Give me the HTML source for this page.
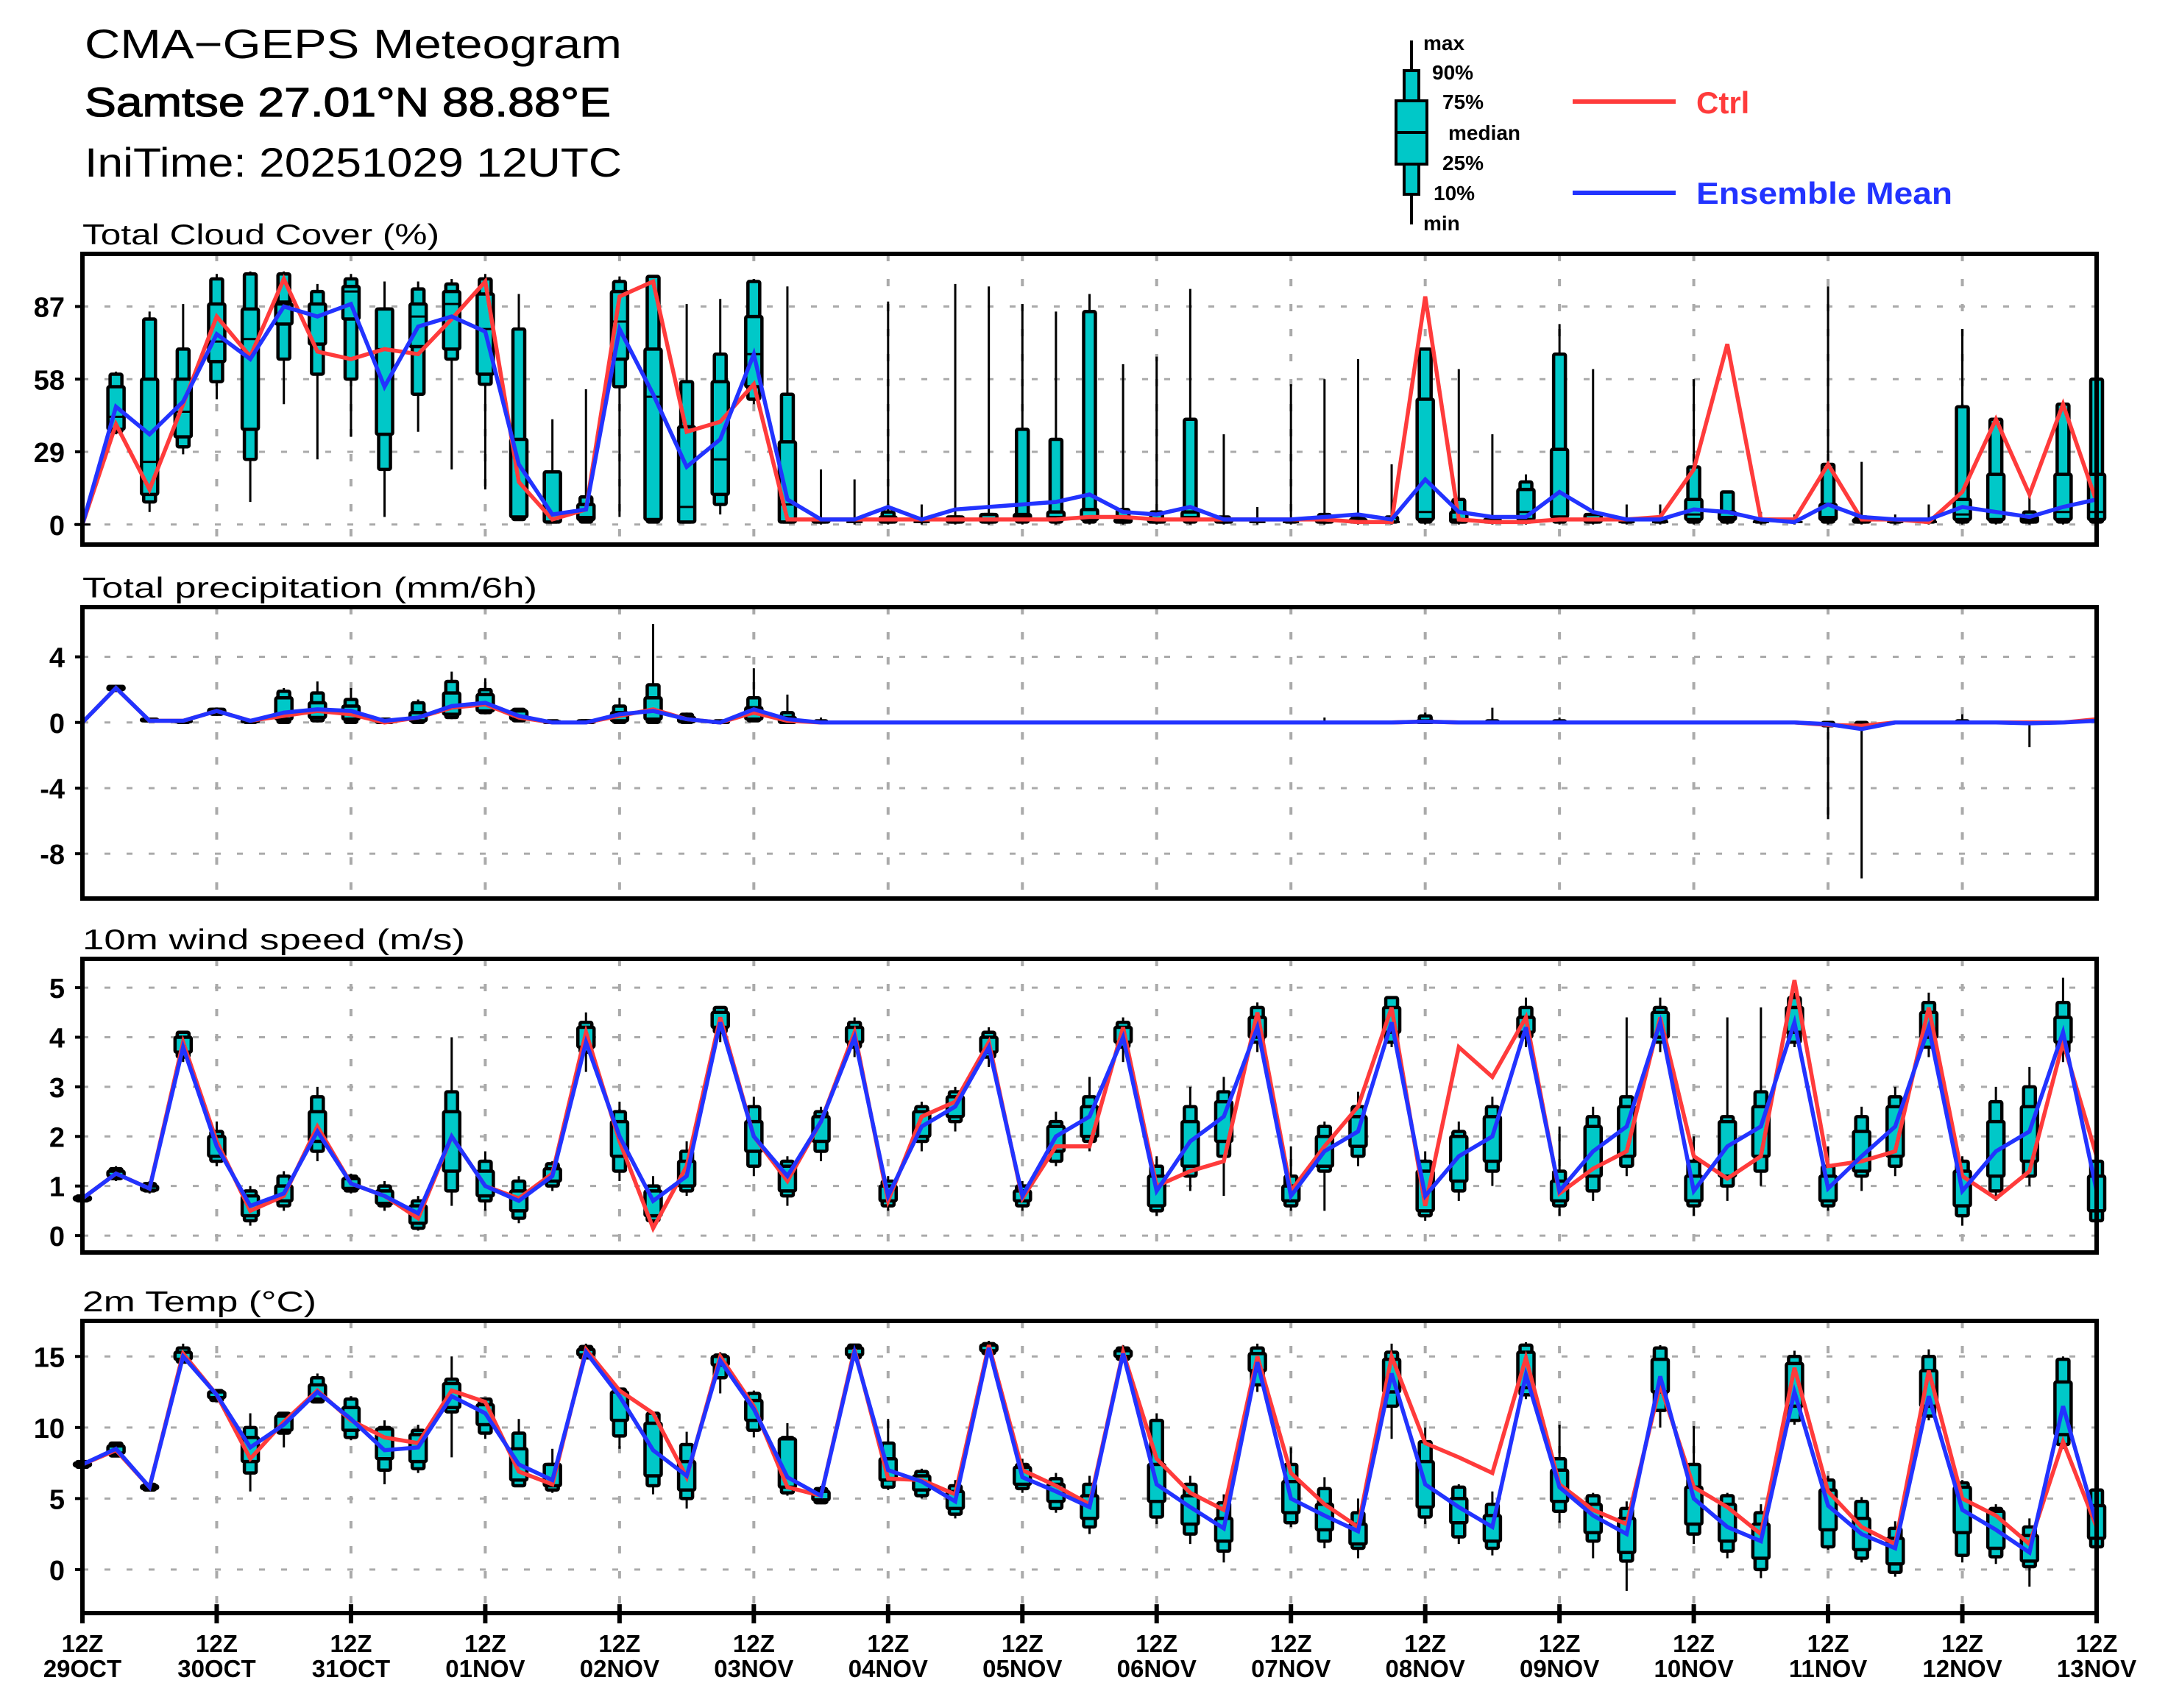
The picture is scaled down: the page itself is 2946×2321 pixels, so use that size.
<!DOCTYPE html>
<html><head><meta charset="utf-8"><title>CMA-GEPS Meteogram</title>
<style>html,body{margin:0;padding:0;background:#fff}svg{display:block}text{font-family:"Liberation Sans",sans-serif}</style>
</head><body>
<svg id="chart" xmlns="http://www.w3.org/2000/svg" width="2946" height="2321" viewBox="0 0 2946 2321">
<rect x="0" y="0" width="2946" height="2321" fill="#fff"/>
<text x="115" y="79" font-size="56" textLength="730" lengthAdjust="spacingAndGlyphs">CMA−GEPS Meteogram</text>
<text x="115" y="158" font-size="56" textLength="715" lengthAdjust="spacingAndGlyphs" stroke="#000" stroke-width="1.2">Samtse 27.01°N 88.88°E</text>
<text x="115" y="240" font-size="56" textLength="730" lengthAdjust="spacingAndGlyphs">IniTime: 20251029 12UTC</text>
<g>
<line x1="1918" y1="55" x2="1918" y2="305" stroke="#000" stroke-width="4"/>
<rect x="1908" y="96" width="20" height="168" fill="#00c8c8" stroke="#000" stroke-width="4"/>
<rect x="1897" y="137" width="42" height="86" fill="#00c8c8" stroke="#000" stroke-width="4"/>
<line x1="1897" y1="180" x2="1939" y2="180" stroke="#000" stroke-width="4"/>
<g font-size="28" font-weight="bold">
<text x="1934" y="68">max</text>
<text x="1946" y="108">90%</text>
<text x="1960" y="148">75%</text>
<text x="1968" y="190">median</text>
<text x="1960" y="231">25%</text>
<text x="1948" y="272">10%</text>
<text x="1934" y="313">min</text>
</g>
<line x1="2137" y1="138" x2="2277" y2="138" stroke="#ff3b3b" stroke-width="6"/>
<text x="2305" y="154" font-size="42" font-weight="bold" fill="#ff3b3b">Ctrl</text>
<line x1="2137" y1="262" x2="2277" y2="262" stroke="#2233ff" stroke-width="6"/>
<text x="2305" y="277" font-size="42" font-weight="bold" fill="#2233ff" textLength="348" lengthAdjust="spacingAndGlyphs">Ensemble Mean</text>
</g>
<g id="plots"></g>
</svg>
<script>
// ---- Cloud cover (%)
const cloudMin=[0,36,5,28,50,9,48,26,35,3,37,22,14,2,1,1,3,1,1,4,48,1,0,0,0,0,0,0,0,0,0,0,0,0,0,0,0,0,0,0,0,0,0,0,0,0,0,0,0,0,0,0,0,0,0,0,0,0,0,0,0];
const cloudP10=[0,37,9,31,57,26,66,60,58,22,52,66,56,2,1,1,55,1,1,8,50,1,1,1,1,1,1,1,1,1,1,1,1,1,1,1,1,1,1,1,1,1,1,1,1,1,1,1,1,1,1,1,1,1,1,1,1,1,1,1,1];
const cloudP25=[0,38,12,35,65,38,80,72,82,36,71,70,60,3,1,2,66,2,1,12,55,1,1,1,1,1,1,1,2,2,2,1,1,2,1,1,1,1,1,1,2,1,1,2,3,1,1,1,2,2,1,1,2,1,1,1,2,2,1,2,2];
const cloudMed=[0,43,25,45,73,74,89,88,93,70,83,88,78,3,1,3,81,51,7,26,68,8,1,1,1,1,1,1,3,3,3,2,2,3,1,1,1,1,1,1,5,2,1,5,3,1,1,1,4,3,1,1,3,1,1,1,4,5,2,5,5];
const cloudP75=[0,55,58,58,88,86,88,88,95,86,88,93,92,34,21,8,93,70,39,57,83,33,2,1,3,1,3,4,4,5,6,2,2,5,2,1,1,2,2,1,50,5,2,14,30,4,1,1,10,5,1,1,8,2,1,1,10,20,3,20,20];
const cloudP90=[0,60,82,70,98,100,100,93,98,86,94,96,98,78,21,11,97,99,57,68,97,52,2,1,5,1,3,4,38,34,85,6,5,42,3,1,2,4,3,3,70,10,3,17,68,4,2,2,23,13,2,1,24,3,2,2,47,42,5,48,58];
const cloudMax=[0,61,85,88,100,101,101,96,100,97,97,98,100,92,42,54,99,99,88,90,98,95,22,18,89,8,96,95,88,85,92,64,67,94,36,7,56,58,66,24,70,62,36,20,80,62,8,8,58,13,5,4,95,25,4,8,78,43,12,48,58];
const cloudCtrl=[0,40,14,48,83,67,98,69,66,70,68,82,97,17,2,6,91,97,37,41,56,2,2,2,2,2,2,2,2,2,3,3,2,2,2,2,2,2,1,1,91,2,1,1,2,2,2,3,22,72,2,2,24,2,2,1,13,42,12,48,9];
const cloudMean=[0,47,36,49,76,66,87,83,88,55,79,83,77,24,4,6,78,52,23,34,68,10,2,2,7,2,6,7,8,9,12,5,4,7,2,2,2,3,4,2,18,5,3,3,13,5,2,2,6,5,2,1,8,3,2,2,7,5,3,7,10];
const cloudTicks=[0,29,58,87];
// ---- Precipitation (mm/6h)
const precMin=[0,1.9,0.1,0,0.4,0,0,0,0,0,0,0.2,0.5,0.1,0,0,0,0,0,0,0.1,0,0,0,0,0,0,0,0,0,0,0,0,0,0,0,0,0,0,0,0,0,0,0,0,0,0,0,0,0,0,0,-5.9,-9.5,0,0,0,0,-1.5,0,0];
const precP10=[0,1.95,0.1,0,0.5,0,0,0.1,0,0,0,0.3,0.6,0.1,0,0,0,0,0,0,0.1,0,0,0,0,0,0,0,0,0,0,0,0,0,0,0,0,0,0,0,0,0,0,0,0,0,0,0,0,0,0,0,-0.2,-0.3,0,0,0,0,0,0,0];
const precP25=[0,2.0,0.1,0.05,0.55,0.05,0.2,0.3,0.2,0,0.1,0.5,0.7,0.2,0,0,0.1,0.2,0.05,0,0.2,0,0,0,0,0,0,0,0,0,0,0,0,0,0,0,0,0,0,0,0,0,0,0,0,0,0,0,0,0,0,0,0,0,0,0,0,0,0,0,0];
const precP75=[0,2.2,0.2,0.1,0.8,0.1,1.5,1.2,1.0,0.1,0.6,1.8,1.7,0.7,0.05,0.1,0.6,1.5,0.3,0.05,0.9,0.3,0,0,0,0,0,0,0,0,0,0,0,0,0,0,0,0,0,0,0.1,0,0,0,0,0,0,0,0,0,0,0,0,0,0,0,0,0,0,0,0];
const precP90=[0,2.2,0.2,0.1,0.8,0.1,1.9,1.8,1.4,0.2,1.2,2.5,2.0,0.8,0.1,0.1,1.0,2.3,0.5,0.1,1.5,0.6,0.1,0,0,0,0,0,0,0,0,0,0,0,0,0,0,0,0,0,0.4,0,0.1,0,0.1,0,0,0,0,0,0,0,0,0,0,0,0.1,0,0,0,0];
const precMax=[0,2.3,0.2,0.1,0.9,0.1,2.1,2.5,2.1,0.3,1.4,3.1,2.7,0.8,0.1,0.2,1.5,6.0,0.6,0.1,3.3,1.7,0.3,0.1,0,0,0,0,0,0,0,0,0,0,0,0,0,0.3,0,0,0.6,0,0.9,0,0.3,0,0,0,0,0,0,0,0,0,0,0,0.5,0,0,0,0.1];
const precCtrl=[0,2.1,0.1,0.1,0.7,0.1,0.4,0.7,0.5,0,0.3,0.9,1.1,0.3,0,0,0.4,0.8,0.2,0,0.6,0.1,0,0,0,0,0,0,0,0,0,0,0,0,0,0,0,0,0,0,0.05,0,0,0,0,0,0,0,0,0,0,0,-0.15,-0.2,0,0,0,0,0,0,0.2];
const precMean=[0,2.1,0.1,0.1,0.7,0.1,0.6,0.8,0.7,0.1,0.3,1.0,1.2,0.4,0,0,0.5,0.7,0.2,0,0.8,0.2,0,0,0,0,0,0,0,0,0,0,0,0,0,0,0,0,0,0,0.05,0,0,0,0,0,0,0,0,0,0,0,-0.1,-0.4,0,0,0,0,-0.05,0,0.1];
const precTicks=[-8,-4,0,4];
// ---- Wind speed (m/s)
const windMin=[0.7,1.1,0.85,3.5,1.4,0.2,0.5,1.5,0.85,0.5,0.1,0.6,0.5,0.25,0.9,3.3,1.1,0.2,0.8,3.9,1.2,0.6,1.5,3.6,0.5,1.7,2.1,3.4,0.5,1.4,1.7,3.5,0.4,0.9,0.8,3.7,0.5,0.5,1.4,3.8,0.3,0.7,1.0,3.8,0.4,0.7,1.2,3.7,0.4,0.7,1.0,3.8,0.5,0.9,1.2,3.6,0.2,0.7,1.0,3.5,0.2];
const windP10=[0.7,1.15,0.9,3.6,1.5,0.3,0.6,1.7,0.9,0.6,0.15,0.9,0.7,0.35,1.0,3.7,1.3,0.3,0.9,4.1,1.4,0.8,1.7,3.8,0.6,1.9,2.3,3.6,0.6,1.5,1.9,3.8,0.5,1.2,1.6,3.9,0.6,1.3,1.6,3.9,0.4,0.9,1.3,4.0,0.6,0.9,1.4,3.9,0.6,1.0,1.3,3.9,0.6,1.2,1.4,3.8,0.4,0.9,1.2,3.7,0.3];
const windP25=[0.72,1.2,0.92,3.7,1.6,0.4,0.7,1.9,0.95,0.65,0.25,1.3,0.8,0.5,1.1,3.8,1.6,0.4,1.0,4.2,1.7,0.9,1.9,3.9,0.7,2.0,2.4,3.7,0.7,1.7,2.0,3.9,0.6,1.4,1.9,4.0,0.7,1.4,1.8,4.1,0.5,1.1,1.5,4.1,0.7,1.2,1.6,4.0,0.7,1.2,1.6,4.1,0.7,1.3,1.6,4.0,0.6,1.2,1.5,3.9,0.5];
const windP75=[0.78,1.3,1.0,4.0,2.0,0.8,1.0,2.5,1.15,0.9,0.6,2.5,1.3,0.9,1.35,4.2,2.3,0.9,1.5,4.5,2.3,1.4,2.4,4.2,1.0,2.5,2.8,4.0,0.9,2.2,2.6,4.2,1.2,2.3,2.7,4.4,1.0,2.0,2.4,4.6,1.3,2.0,2.4,4.4,1.1,2.2,2.6,4.5,1.2,2.3,2.6,4.6,1.2,2.1,2.6,4.5,1.3,2.3,2.6,4.4,1.2];
const windP90=[0.8,1.35,1.05,4.1,2.1,0.9,1.2,2.8,1.2,1.0,0.7,2.9,1.5,1.1,1.45,4.3,2.5,1.0,1.7,4.6,2.6,1.5,2.5,4.3,1.1,2.6,2.9,4.1,1.0,2.3,2.8,4.3,1.4,2.6,2.9,4.6,1.2,2.2,2.6,4.8,1.5,2.1,2.6,4.6,1.3,2.4,2.8,4.6,1.5,2.4,2.9,4.8,1.4,2.4,2.8,4.7,1.5,2.7,3.0,4.7,1.5];
const windMax=[0.8,1.4,1.1,4.1,2.3,1.0,1.3,3.0,1.25,1.1,0.8,4.0,1.7,1.2,1.5,4.5,2.7,1.2,1.9,4.6,2.8,1.6,2.6,4.4,1.2,2.7,3.0,4.2,1.1,2.5,3.2,4.4,1.6,3.0,3.2,4.7,1.8,2.3,2.9,4.8,1.7,2.3,2.8,4.8,2.2,2.6,4.4,4.8,2.0,4.4,4.6,4.9,1.8,2.6,3.0,4.9,1.6,3.0,3.4,5.2,1.7];
const windCtrl=[0.75,1.25,0.95,3.9,1.9,0.5,0.8,2.2,1.05,0.8,0.35,2.0,1.0,0.75,1.25,4.1,1.9,0.15,1.4,4.4,2.0,1.1,2.3,4.1,0.7,2.4,2.7,3.9,0.75,1.8,1.8,4.2,1.0,1.3,1.5,4.5,0.9,1.8,2.6,4.6,0.6,3.8,3.2,4.4,0.85,1.35,1.7,4.4,1.6,1.15,1.6,5.15,1.4,1.5,1.7,4.6,1.2,0.75,1.3,3.9,1.6];
const windMean=[0.75,1.25,0.95,3.8,1.8,0.6,0.85,2.1,1.05,0.8,0.45,2.0,1.0,0.7,1.2,3.9,2.0,0.7,1.2,4.3,2.0,1.2,2.3,4.0,0.8,2.2,2.6,3.8,0.8,2.0,2.4,4.0,0.9,1.9,2.4,4.2,0.8,1.7,2.1,4.3,0.8,1.6,2.0,4.2,0.9,1.7,2.2,4.3,0.9,1.8,2.2,4.3,0.95,1.6,2.2,4.2,0.9,1.7,2.1,4.1,0.9];
const windTicks=[0,1,2,3,4,5];
// ---- 2m temperature (C)
const tempMin=[7.2,7.9,5.5,14.5,11.8,5.5,8.6,11.8,9.1,6.0,6.8,7.9,9.2,5.8,5.4,14.8,8.5,5.3,4.3,12.4,9.3,5.2,4.6,14.7,5.6,5.0,3.6,15.0,5.4,4.0,2.5,14.6,3.2,1.8,0.5,12.5,3.0,1.5,0.8,9.2,3.2,1.8,1.0,12.0,3.3,0.8,-1.5,10.0,1.8,0.8,-0.6,10.2,1.4,0.5,-0.5,10.5,0.5,0.4,-1.2,8.5,1.4];
const tempP10=[7.2,8.0,5.6,14.6,11.9,6.8,9.6,11.8,9.3,7.0,7.1,11.1,9.6,5.9,5.6,14.9,9.4,5.9,5.0,13.5,9.8,5.4,4.7,14.9,5.8,5.2,3.9,15.2,5.7,4.3,3.0,14.8,3.7,2.5,1.3,13.0,3.3,2.0,1.5,11.5,3.7,2.3,1.5,12.3,4.1,2.0,0.6,11.2,2.5,1.3,0.0,10.5,1.6,0.8,-0.2,10.8,1.0,0.9,0.2,8.8,1.6];
const tempP25=[7.3,8.2,5.7,14.8,12.1,7.6,9.8,12.0,9.8,7.8,7.6,11.4,10.2,6.3,5.9,15.1,10.5,6.6,5.6,14.4,10.5,5.8,4.9,15.1,6.3,5.6,4.3,15.4,6.0,4.8,3.6,15.0,4.8,3.2,2.0,14.0,4.0,2.8,1.8,12.5,4.4,3.3,2.0,12.8,4.8,2.6,1.2,12.5,3.2,2.0,0.8,11.5,2.8,1.4,0.4,11.5,2.6,1.5,0.6,9.5,2.2];
const tempP75=[7.5,8.7,5.9,15.3,12.5,9.3,10.8,13.0,11.4,9.9,9.5,13.1,11.6,8.5,7.4,15.5,12.5,10.3,7.6,15.0,11.9,9.2,5.5,15.6,7.8,6.6,5.5,15.8,7.2,6.0,5.2,15.4,7.4,5.2,3.6,15.2,6.2,4.6,3.2,14.8,7.6,5.0,3.8,15.3,7.0,4.6,3.6,14.8,5.8,4.6,3.2,14.5,5.6,3.6,2.2,14.0,5.8,4.1,2.4,13.2,4.5];
const tempP90=[7.6,8.9,6.0,15.6,12.6,10.0,11.0,13.5,12.0,10.0,9.8,13.4,12.0,9.6,7.4,15.7,12.7,11.0,8.8,15.1,12.4,9.3,5.7,15.8,8.9,6.9,5.9,15.9,7.4,6.4,6.0,15.6,10.5,6.0,4.7,15.6,7.4,5.7,4.0,15.3,9.0,5.8,4.6,15.8,7.8,5.2,4.3,15.6,7.4,5.2,4.0,15.0,6.3,4.8,2.9,15.0,6.1,4.3,3.0,14.8,5.6];
const tempMax=[7.6,9.0,6.1,15.9,12.7,11.0,11.1,13.8,12.2,10.5,10.2,15.0,12.1,10.6,8.5,15.9,12.8,11.1,9.7,15.3,12.6,10.3,5.9,15.9,10.6,7.1,6.3,16.1,7.8,6.8,6.6,15.8,11.0,6.6,5.3,15.9,8.6,6.5,5.0,15.9,10.0,6.0,5.5,16.0,10.2,5.4,4.8,15.8,10.1,5.4,4.6,15.4,6.6,5.1,3.4,15.5,6.3,4.6,3.6,15.0,5.8];
const tempCtrl=[7.4,8.4,5.8,15.2,12.3,7.8,10.4,12.6,10.5,9.3,8.9,12.6,11.8,6.9,6.0,15.5,12.6,11.0,6.5,15.0,11.5,5.8,5.2,15.5,6.4,6.3,5.3,15.8,7.0,5.9,4.6,15.3,7.8,5.4,4.2,15.0,6.8,4.6,3.0,15.0,8.9,7.9,6.8,14.9,6.0,4.2,3.2,13.0,5.8,4.4,2.5,14.2,5.5,3.0,1.8,14.0,5.0,3.8,1.8,9.0,3.0];
const tempMean=[7.4,8.5,5.8,15.0,12.3,8.6,10.2,12.5,10.6,8.4,8.6,12.2,11.0,7.4,6.3,15.3,12.2,8.4,6.6,14.7,11.3,6.5,5.2,15.3,7.0,6.2,4.8,15.6,6.5,5.5,4.4,15.2,6.0,4.4,2.9,14.6,5.0,3.8,2.7,13.8,6.0,4.4,3.0,13.7,5.8,3.8,2.5,13.6,5.0,3.0,2.0,12.5,4.5,2.5,1.5,12.2,4.2,2.8,1.2,11.5,3.2];
const tempTicks=[0,5,10,15];
// ---- time axis
const dayLabels=["29OCT","30OCT","31OCT","01NOV","02NOV","03NOV","04NOV","05NOV","06NOV","07NOV","08NOV","09NOV","10NOV","11NOV","12NOV","13NOV"];
const nSteps=61;

const NS="http://www.w3.org/2000/svg";
const X0=112, X1=2849;
function xScale(i){return X0+(X1-X0)*i/(nSteps-1);}
function mk(tag,attrs,parent){const e=document.createElementNS(NS,tag);for(const k in attrs)e.setAttribute(k,attrs[k]);parent.appendChild(e);return e;}
const root=document.getElementById('plots');

function panel(cfg){
  const g=mk('g',{},root);
  
  
  const y=v=>cfg.top+(cfg.vmax-v)/(cfg.vmax-cfg.vmin)*(cfg.bottom-cfg.top);
  const t=mk('text',{x:112,y:cfg.top-13,'font-size':39,textLength:cfg.titleLen,lengthAdjust:'spacingAndGlyphs'},g);
  t.textContent=cfg.title;
  
  
  cfg.ticks.forEach(v=>{
    const yy=y(v);
    const gl=mk('line',{x1:X0,x2:X1,y1:yy,y2:yy,stroke:'#aaa','stroke-width':3,'stroke-dasharray':'8,22'},g);
    
    
    const tk=mk('line',{x1:X0-10,x2:X0,y1:yy,y2:yy,stroke:'#000','stroke-width':4},g);
    
    
    const lb=mk('text',{x:X0-24,y:yy+14,'font-size':38,'font-weight':'bold','text-anchor':'end'},g);
    lb.textContent=String(v);
    
    
  });
  for(let d=1;d<dayLabels.length-1;d++){
    const xx=xScale(d*4);
    const vl=mk('line',{x1:xx,x2:xx,y1:cfg.top,y2:cfg.bottom,stroke:'#aaa','stroke-width':4,'stroke-dasharray':'10,24'},g);
    
    
  }
  for(let i=0;i<nSteps;i++){
    const xx=xScale(i);
    const bg=mk('g',{},g);
    
    
    mk('line',{x1:xx,x2:xx,y1:y(cfg.mx[i]),y2:y(cfg.mn[i]),stroke:'#000','stroke-width':3},bg);
    const y90=y(cfg.p90[i]),y10=y(cfg.p10[i]);
    mk('rect',{x:xx-8,y:y90,width:16,height:Math.max(0,y10-y90),fill:'#00c8c8',stroke:'#000','stroke-width':4.5,rx:2},bg);
    const y75=y(cfg.p75[i]),y25=y(cfg.p25[i]);
    mk('rect',{x:xx-11,y:y75,width:22,height:Math.max(0,y25-y75),fill:'#00c8c8',stroke:'#000','stroke-width':4.5,rx:2},bg);
    if(cfg.med){const ym=y(cfg.med[i]);mk('line',{x1:xx-11,x2:xx+11,y1:ym,y2:ym,stroke:'#000','stroke-width':3},bg);}
  }
  [['ctrl',cfg.ctrl,'#ff3b3b'],['ensemble-mean',cfg.mean,'#2233ff']].forEach(s=>{
    const pts=s[1].map((v,i)=>xScale(i).toFixed(1)+','+y(v).toFixed(1)).join(' ');
    const pl=mk('polyline',{points:pts,fill:'none',stroke:s[2],'stroke-width':5.5,'stroke-linejoin':'miter'},g);
    
    
  });
  const fr=mk('rect',{x:X0,y:cfg.top,width:X1-X0,height:cfg.bottom-cfg.top,fill:'none',stroke:'#000','stroke-width':6},g);
  
  
  return g;
}
panel({name:'cloud-cover',title:'Total Cloud Cover (%)',titleLen:485,top:345,bottom:740,vmin:-8,vmax:108,ticks:cloudTicks,mn:cloudMin,p10:cloudP10,p25:cloudP25,med:cloudMed,p75:cloudP75,p90:cloudP90,mx:cloudMax,ctrl:cloudCtrl,mean:cloudMean});
panel({name:'precipitation',title:'Total precipitation (mm/6h)',titleLen:618,top:825,bottom:1221,vmin:-10.73,vmax:7.03,ticks:precTicks,mn:precMin,p10:precP10,p25:precP25,p75:precP75,p90:precP90,mx:precMax,ctrl:precCtrl,mean:precMean});
panel({name:'wind-speed',title:'10m wind speed (m/s)',titleLen:520,top:1303,bottom:1702,vmin:-0.34,vmax:5.58,ticks:windTicks,mn:windMin,p10:windP10,p25:windP25,p75:windP75,p90:windP90,mx:windMax,ctrl:windCtrl,mean:windMean});
panel({name:'temperature',title:'2m Temp (°C)',titleLen:318,top:1795,bottom:2192,vmin:-3.06,vmax:17.5,ticks:tempTicks,mn:tempMin,p10:tempP10,p25:tempP25,p75:tempP75,p90:tempP90,mx:tempMax,ctrl:tempCtrl,mean:tempMean});
const ax=mk('g',{},root);


dayLabels.forEach((lab,d)=>{
  const xx=xScale(d*4);
  const tk=mk('line',{x1:xx,x2:xx,y1:2180,y2:2206,stroke:'#000','stroke-width':6},ax);
  
  
  const t1=mk('text',{x:xx,y:2245,'font-size':33,'font-weight':'bold','text-anchor':'middle'},ax);
  t1.textContent='12Z';
  
  
  const t2=mk('text',{x:xx,y:2279,'font-size':33,'font-weight':'bold','text-anchor':'middle'},ax);
  t2.textContent=lab;
  
  
});
</script>
</body></html>
